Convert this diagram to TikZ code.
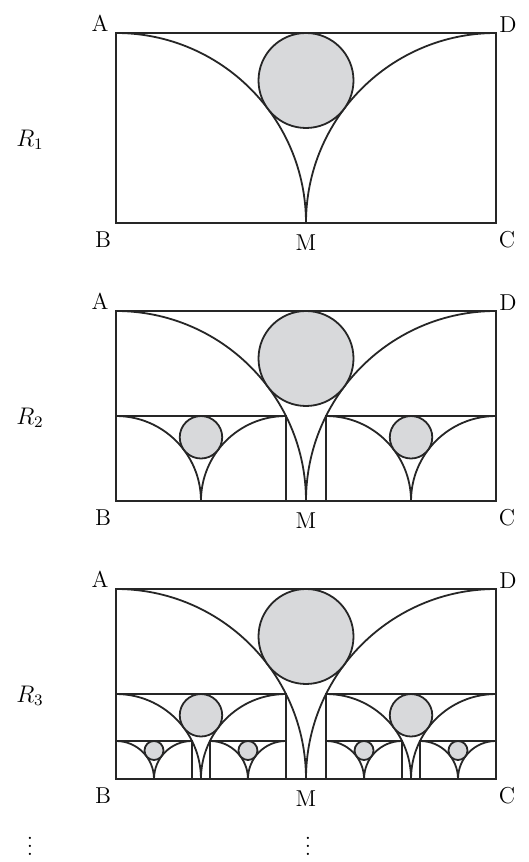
\documentclass[tikz,border=0pt]{standalone}
\usetikzlibrary{positioning}

\definecolor{discgray}{RGB}{216,217,219}

% one rectangle with its two arcs and the disc between them
\newcommand{\drawcell}[3]{%
  \draw[figline] (#1,#2) rectangle ({#1+2*#3},{#2+#3});
  \draw[figline] (#1,{#2+#3}) arc[start angle=90, end angle=0, radius=#3];
  \draw[figline] ({#1+2*#3},{#2+#3}) arc[start angle=90, end angle=180, radius=#3];
  \draw[figline, fill=discgray] ({#1+#3},{#2+0.75*#3}) circle[radius={0.25*#3}];
}

\begin{document}
\begin{tikzpicture}[
    x=0.5pt, y=0.5pt,
    figline/.style={line width=0.9pt, draw=black!85},
    lbl/.style={inner sep=0pt, font=\fontsize{11.5}{13}\selectfont}
]
    \useasboundingbox (0,0) rectangle (529,862);
    \pgfmathsetmacro{\hs}{190/sqrt(5)}
    \pgfmathsetmacro{\xr}{116+380-2*\hs}
    \pgfmathsetmacro{\xm}{116+2*\hs-76}
    \pgfmathsetmacro{\xn}{\xr+2*\hs-76}

    % Panels
    \foreach \n/\yb in {1/639, 2/361, 3/83}{
        \drawcell{116}{\yb}{190}
        \node[lbl] (A\n) at (100,\yb+200) {A};
        \node[lbl] (D\n) at (508,\yb+198) {D};
        \node[lbl] (B\n) at (103,\yb-17) {B};
        \node[lbl] (M\n) at (306,\yb-20) {M};
        \node[lbl] (C\n) at (507,\yb-17) {C};
        \node[lbl] (R\n) at (30,\yb+83) {$R_{\n}$};
    }

    % Second step
    \foreach \yb in {361, 83}{
        \drawcell{116}{\yb}{\hs}
        \drawcell{\xr}{\yb}{\hs}
    }

    % Third step
    \foreach \xa in {116, \xm, \xr, \xn}{
        \drawcell{\xa}{83}{38}
    }

    % Dots
    \node[lbl, anchor=south] (dotsl) at (30,6) {$\vdots$};
    \node[lbl, anchor=south] (dotsm) at (308,6) {$\vdots$};
\end{tikzpicture}
\end{document}
